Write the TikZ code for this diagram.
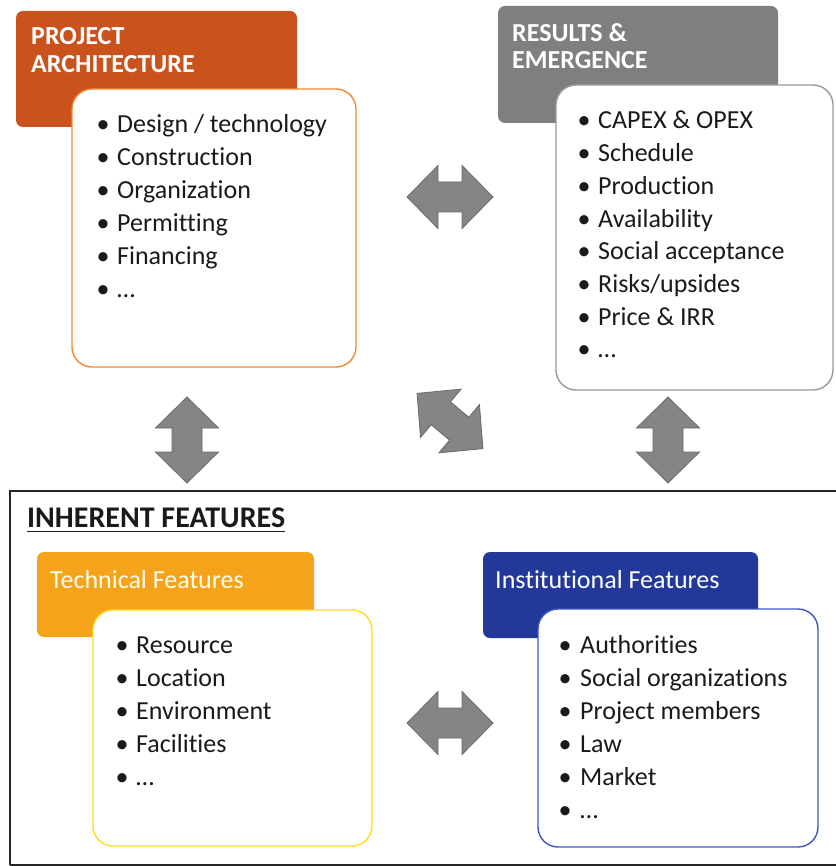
\documentclass[tikz,border=0pt]{standalone}
\usepackage{fontspec}
\setmainfont{Carlito}[Ligatures=NoCommon]
\definecolor{paHead}{HTML}{C9521D}
\definecolor{paLine}{HTML}{F08A30}
\definecolor{reHead}{HTML}{7F7F7F}
\definecolor{reLine}{HTML}{9A9A9A}
\definecolor{tfHead}{HTML}{F6A31C}
\definecolor{tfLine}{HTML}{FFDD22}
\definecolor{ifHead}{HTML}{22399A}
\definecolor{ifLine}{HTML}{3F55C6}
\definecolor{arrFill}{HTML}{858585}
\definecolor{arrLine}{HTML}{6A6A6A}
\definecolor{txt}{HTML}{1A1A1A}
\tikzset{
  head/.style={rounded corners=7pt},
  listbox/.style={fill=white, line width=1.4pt, rounded corners=20pt},
  item/.style={anchor=base west, inner sep=0pt, text=txt, font=\fontsize{26}{33}\selectfont},
  bul/.style={anchor=base, inner sep=0pt, text=txt, font=\fontsize{26}{33}\selectfont},
  headtxt/.style={anchor=base west, inner sep=0pt, font=\fontsize{26}{28}\selectfont},
  dblarrow/.pic={
    \path[fill=arrFill, draw=arrLine, line width=0.8pt]
      (-43,0) -- (-12,31.5) -- (-12,15) -- (12,15) -- (12,31.5) -- (43,0)
      -- (12,-31.5) -- (12,-15) -- (-12,-15) -- (-12,-31.5) -- cycle;
  }
}
\begin{document}
\begin{tikzpicture}[x=1pt,y=-1pt]
\useasboundingbox[fill=white] (0,0) rectangle (835,866);

% ---------- Project architecture ----------
\fill[paHead, head] (16,11) rectangle (297,127);
\node[headtxt, text=white, font=\fontsize{26}{28}\selectfont\bfseries] (paT1) at (31,45) {PROJECT};
\node[headtxt, text=white, font=\fontsize{26}{28}\selectfont\bfseries] (paT2) at (31,73) {ARCHITECTURE};
\draw[listbox, draw=paLine] (72,89) rectangle (356,367);
\foreach \t [count=\i] in {Design / technology, Construction, Organization, Permitting, Financing, \dots}{
  \node[bul] (pab\i) at (103,{133+32.8*(\i-1)}) {•};
  \node[item] (pa\i) at (117,{133+32.8*(\i-1)}) {\t};
}

% ---------- Results & emergence ----------
\fill[reHead, head] (498,6) rectangle (778,123);
\node[headtxt, text=white, font=\fontsize{26}{28}\selectfont\bfseries] (reT1) at (512,42) {RESULTS \&};
\node[headtxt, text=white, font=\fontsize{26}{28}\selectfont\bfseries] (reT2) at (512,69) {EMERGENCE};
\draw[listbox, draw=reLine] (556,85) rectangle (833,390);
\foreach \t [count=\i] in {CAPEX \& OPEX, Schedule, Production, Availability, Social acceptance, Risks/upsides, Price \& IRR, \dots}{
  \node[bul] (reb\i) at (584,{129+32.7*(\i-1)}) {•};
  \node[item] (re\i) at (598,{129+32.7*(\i-1)}) {\t};
}

% ---------- arrows ----------
\coordinate (aTop) at (450,197);
\coordinate (aLeft) at (187,440);
\coordinate (aDiag) at (450,421);
\coordinate (aRight) at (668,440);
\coordinate (aBot) at (450,723);
\pic at (aTop) {dblarrow};
\pic[rotate=90] at (aLeft) {dblarrow};
\pic[rotate=-40] at (aDiag) {dblarrow};
\pic[rotate=90] at (aRight) {dblarrow};
\pic at (aBot) {dblarrow};

% ---------- Inherent features frame ----------
\draw[line width=1.5pt, draw=black!85] (10,865) -- (10,491) -- (840,491);
\draw[line width=1.5pt, draw=black!85] (10,865) -- (840,865);
\node[anchor=base west, inner sep=0pt, text=txt, font=\fontsize{30}{34}\selectfont\bfseries] (inh) at (27,527) {INHERENT FEATURES};
\draw[line width=1.8pt, txt] ([yshift=-4.5pt]inh.base west) -- ([yshift=-4.5pt]inh.base east);

% ---------- Technical features ----------
\fill[tfHead, head] (37,552) rectangle (314,637);
\node[headtxt, text=white!92!yellow] (tfT) at (50,588) {Technical Features};
\draw[listbox, draw=tfLine] (93,610) rectangle (372,846);
\foreach \t [count=\i] in {Resource, Location, Environment, Facilities, \dots}{
  \node[bul] (tfb\i) at (122,{653+33*(\i-1)}) {•};
  \node[item] (tf\i) at (136,{653+33*(\i-1)}) {\t};
}

% ---------- Institutional features ----------
\fill[ifHead, head] (483,552) rectangle (758,638);
\node[headtxt, text=white] (ifT) at (495,588) {Institutional Features};
\draw[listbox, draw=ifLine] (538,609) rectangle (818,847);
\foreach \t [count=\i] in {Authorities, Social organizations, Project members, Law, Market, \dots}{
  \node[bul] (ifb\i) at (565,{653+33*(\i-1)}) {•};
  \node[item] (if\i) at (580,{653+33*(\i-1)}) {\t};
}
\end{tikzpicture}
\end{document}
